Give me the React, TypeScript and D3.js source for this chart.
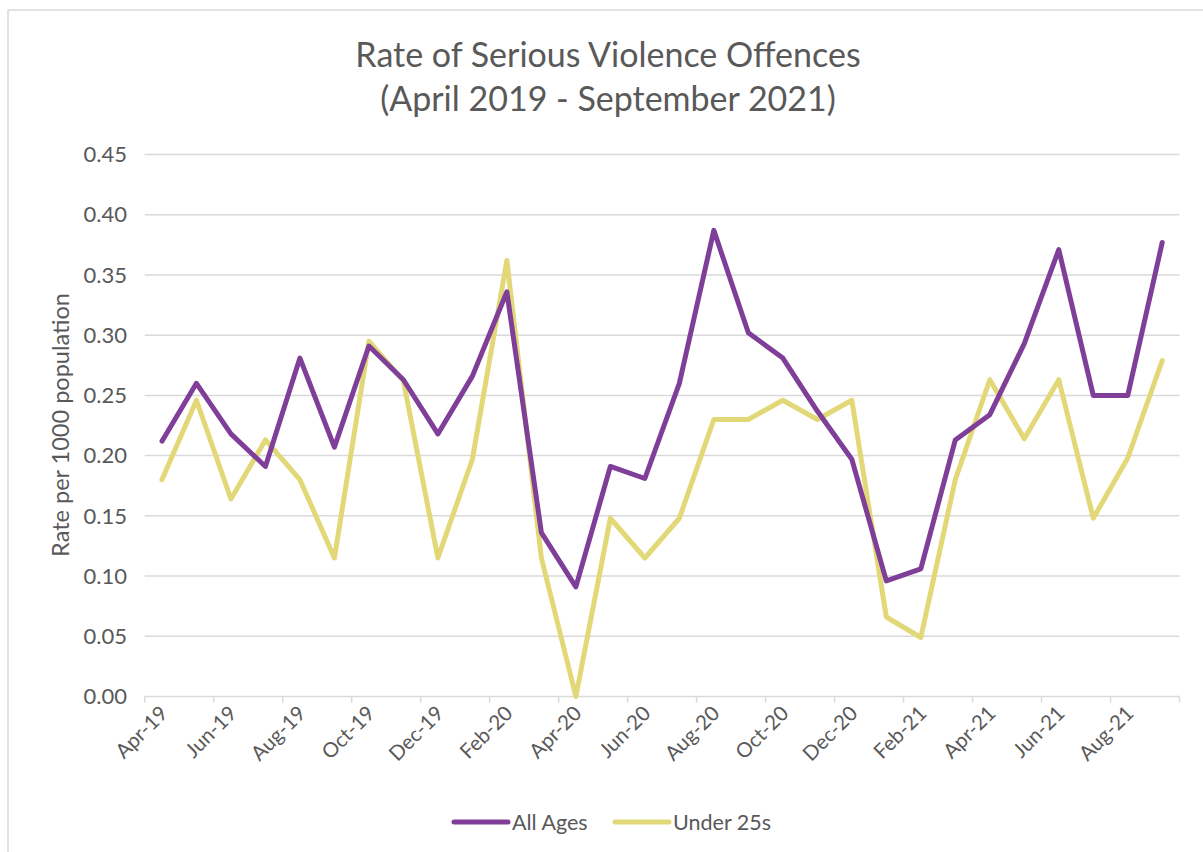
import React from "react";
import * as d3 from "d3";

const months = [
  "Apr-19","May-19","Jun-19","Jul-19","Aug-19","Sep-19","Oct-19","Nov-19","Dec-19",
  "Jan-20","Feb-20","Mar-20","Apr-20","May-20","Jun-20","Jul-20","Aug-20","Sep-20",
  "Oct-20","Nov-20","Dec-20","Jan-21","Feb-21","Mar-21","Apr-21","May-21","Jun-21",
  "Jul-21","Aug-21","Sep-21",
];
const allAges = [
  0.212, 0.260, 0.218, 0.191, 0.281, 0.207, 0.291, 0.263, 0.218, 0.266,
  0.336, 0.136, 0.091, 0.191, 0.181, 0.260, 0.387, 0.302, 0.281, 0.237,
  0.197, 0.096, 0.106, 0.213, 0.234, 0.293, 0.371, 0.250, 0.250, 0.377,
];
const under25 = [
  0.180, 0.246, 0.164, 0.213, 0.180, 0.115, 0.295, 0.262, 0.115, 0.197,
  0.362, 0.115, 0.000, 0.148, 0.115, 0.148, 0.230, 0.230, 0.246, 0.230,
  0.246, 0.066, 0.049, 0.180, 0.263, 0.214, 0.263, 0.148, 0.198, 0.279,
];
const yTicks = [0, 0.05, 0.1, 0.15, 0.2, 0.25, 0.3, 0.35, 0.4, 0.45];
const seriesNames = ["All Ages", "Under 25s"];
const colors = ["#7F3F98", "#E2D878"];

export default function App() {
  const W = 1203, H = 852;
  const left = 144.7, right = 1179.5, top = 154.5, bottom = 696.5;
  const font = "Lato, 'Open Sans', sans-serif";
  const textColor = "#595959";

  const x = d3.scaleBand<string>().domain(months).range([left, right]).paddingInner(0).paddingOuter(0);
  const y = d3.scaleLinear().domain([0, 0.45]).range([bottom, top]);
  const cx = (m: string) => (x(m) as number) + x.bandwidth() / 2;
  const line = d3.line<number>().x((_, i) => cx(months[i])).y((d) => y(d));

  const tickPositions = d3.range(0, months.length + 1, 2).map((i) => left + i * x.bandwidth());

  return (
    <svg width={W} height={H} style={{ position: "absolute", left: 0, top: 0, background: "#fff" }}>
      <rect x={0} y={0} width={W} height={H} fill="#fff" />
      <rect x={8} y={10} width={W + 10} height={H + 10} fill="none" stroke="#d9d9d9" strokeWidth={1.5} />
      <text x={608} y={67} textAnchor="middle" fontFamily={font} fontSize={34} fill={textColor}>
        Rate of Serious Violence Offences
      </text>
      <text x={608} y={111} textAnchor="middle" fontFamily={font} fontSize={34} fill={textColor}>
        (April 2019 - September 2021)
      </text>
      {yTicks.map((t) => (
        <g key={t}>
          {t > 0 && <line x1={left} x2={right} y1={y(t)} y2={y(t)} stroke="#d9d9d9" strokeWidth={1.5} />}
          <text x={127} y={y(t)} dy="0.35em" textAnchor="end" fontFamily={font} fontSize={22} fill={textColor}>
            {t.toFixed(2)}
          </text>
        </g>
      ))}
      <line x1={left} x2={right} y1={bottom} y2={bottom} stroke="#d9d9d9" strokeWidth={1.5} />
      {tickPositions.map((p, i) => (
        <line key={i} x1={p} x2={p} y1={bottom} y2={bottom + 6} stroke="#d9d9d9" strokeWidth={1.5} />
      ))}
      {months.map((m, i) =>
        i % 2 === 0 ? (
          <text key={m} transform={`translate(${cx(m) + 2},${bottom + 13}) rotate(-45)`} textAnchor="end"
            dy="0.35em" fontFamily={font} fontSize={20.5} fill={textColor}>
            {m}
          </text>
        ) : null
      )}
      <text transform={`translate(69,${(288 + 562) / 2}) rotate(-90)`} textAnchor="middle"
        fontFamily={font} fontSize={23.5} fill={textColor}>
        Rate per 1000 population
      </text>
      <path d={line(under25) || ""} fill="none" stroke={colors[1]} strokeWidth={5} strokeLinejoin="round" strokeLinecap="round" />
      <path d={line(allAges) || ""} fill="none" stroke={colors[0]} strokeWidth={5} strokeLinejoin="round" strokeLinecap="round" />
      {seriesNames.map((n, i) => {
        const lx = i === 0 ? 454 : 615;
        return (
          <g key={n}>
            <line x1={lx} x2={lx + 54} y1={822} y2={822} stroke={colors[i]} strokeWidth={5} strokeLinecap="round" />
            <text x={lx + 58} y={822} dy="0.35em" fontFamily={font} fontSize={21.5} fill={textColor}>{n}</text>
          </g>
        );
      })}
    </svg>
  );
}
